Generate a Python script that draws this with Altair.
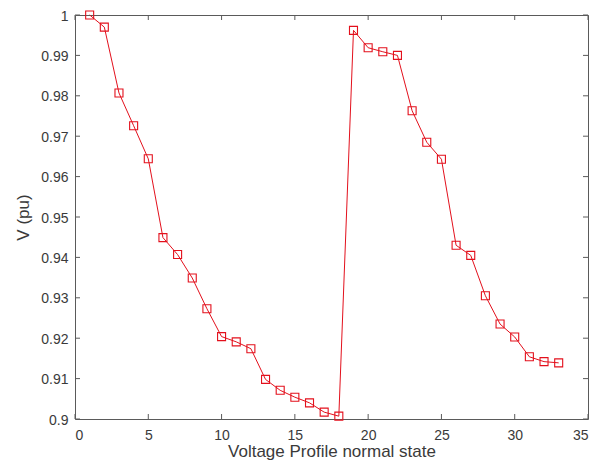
import altair as alt
import pandas as pd

# Data
bus = list(range(1, 34))
voltage = [1.0000, 0.9970, 0.9807, 0.9726, 0.9644, 0.9449, 0.9407, 0.9349,
           0.9273, 0.9204, 0.9191, 0.9174, 0.9098, 0.9071, 0.9054, 0.9040,
           0.9017, 0.9007, 0.9962, 0.9919, 0.9909, 0.9900, 0.9763, 0.9685,
           0.9643, 0.9430, 0.9405, 0.9305, 0.9235, 0.9203, 0.9154, 0.9142,
           0.9139]
x_ticks = [0, 5, 10, 15, 20, 25, 30, 35]
y_ticks = [0.9, 0.91, 0.92, 0.93, 0.94, 0.95, 0.96, 0.97, 0.98, 0.99, 1.0]

RED = "#e3101c"
AX = "#5a5a5a"
TXT = "#3a3a3a"
FONT = "Liberation Sans"
W, H = 513, 404
TL = 5

df = pd.DataFrame({"bus": bus, "V": voltage})
xt = pd.DataFrame({"t": x_ticks})
yt = pd.DataFrame({"t": y_ticks})

xs = alt.Scale(domain=[0, 35], nice=False, zero=False)
ys = alt.Scale(domain=[0.9, 1.0], nice=False, zero=False)

xaxis = alt.Axis(values=x_ticks, title="Voltage Profile normal state", format="~g",
                 grid=False, domain=False, ticks=False, labelPadding=9, titlePadding=1)
yaxis = alt.Axis(values=y_ticks, title="V (pu)", format=".2~f",
                 grid=False, domain=False, ticks=False, labelPadding=7, titlePadding=8,
                 labelOffset=1)

line = alt.Chart(df).mark_line(color=RED, strokeWidth=1).encode(
    x=alt.X("bus:Q", scale=xs, axis=xaxis),
    y=alt.Y("V:Q", scale=ys, axis=yaxis),
)
pts = alt.Chart(df).mark_point(shape="square", size=64, filled=False, color=RED,
                               strokeWidth=1.1, opacity=1).encode(
    x=alt.X("bus:Q", scale=xs, axis=xaxis),
    y=alt.Y("V:Q", scale=ys, axis=yaxis),
)

xb = alt.Chart(xt).mark_rule(color=AX, strokeWidth=1).encode(
    x=alt.X("t:Q", scale=xs, axis=xaxis), y=alt.value(H), y2=alt.value(H - TL))
xtop = alt.Chart(xt).mark_rule(color=AX, strokeWidth=1).encode(
    x=alt.X("t:Q", scale=xs, axis=xaxis), y=alt.value(0), y2=alt.value(TL))
yl = alt.Chart(yt).mark_rule(color=AX, strokeWidth=1).encode(
    y=alt.Y("t:Q", scale=ys, axis=yaxis), x=alt.value(0), x2=alt.value(TL))
yr = alt.Chart(yt).mark_rule(color=AX, strokeWidth=1).encode(
    y=alt.Y("t:Q", scale=ys, axis=yaxis), x=alt.value(W), x2=alt.value(W - TL))

chart = alt.layer(line, pts, xb, xtop, yl, yr).properties(
    width=W, height=H,
    autosize=alt.AutoSizeParams(type="none"),
    padding={"left": 67, "top": 7, "right": 12, "bottom": 46},
    background="white",
).configure_view(
    stroke=AX, strokeWidth=1
).configure_axis(
    labelFont=FONT, titleFont=FONT, labelFontSize=14, titleFontSize=17,
    labelColor=TXT, titleColor=TXT, titleFontWeight="normal",
)

chart.save("out.html", embed_options={"renderer": "svg", "actions": False})
